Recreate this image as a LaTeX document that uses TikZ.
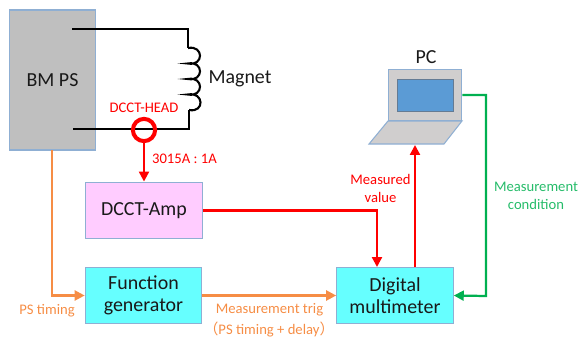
\documentclass[tikz,border=0pt]{standalone}
\usepackage{fontspec}
\setmainfont{Carlito}
\newfontfamily\cjk{Noto Sans CJK JP}
\usetikzlibrary{arrows.meta}
\definecolor{boxline}{HTML}{8FAFD3}
\definecolor{psgray}{HTML}{BFBFBF}
\definecolor{amppink}{HTML}{FFCCFF}
\definecolor{boxcyan}{HTML}{66FFFF}
\definecolor{laptopgray}{HTML}{D0CECE}
\definecolor{screenblue}{HTML}{5B9BD5}
\definecolor{trigorange}{HTML}{F68D45}
\definecolor{condgreen}{HTML}{00B050}
\tikzset{
    blockbox/.style={draw=boxline,line width=.9pt,minimum width=99.5pt,minimum height=48.5pt,align=center,font=\fontsize{17}{20}\selectfont,text=black!90},
    wire/.style={line width=1.8pt,black},
    sigline/.style={line width=1.9pt,-{Triangle[length=8.5pt,width=8.5pt]}},
    siglabel/.style={font=\fontsize{12.5}{15}\selectfont,align=center},
}
\begin{document}
\begin{tikzpicture}[x=.03cm,y=-.03cm]
    \useasboundingbox (0,0) rectangle (580,337);
    \node[blockbox,fill=psgray,minimum width=74pt,minimum height=119.5pt](ps)at(52.5,80){BM PS};
    \node[blockbox,fill=amppink](amp)at(144,210.5){DCCT-Amp};
    \node[blockbox,fill=boxcyan](fg)at(143.5,295.5){Function\\[-1pt]generator};
    \node[blockbox,fill=boxcyan](dmm)at(395,295.5){Digital\\[-1pt]multimeter};
    % magnet circuit
    \coordinate (wiretop) at (72,29);
    \coordinate (wirebot) at (73,129);
    \coordinate (coiltop) at (188,48);
    \coordinate (coilbot) at (189,110);
    \draw[wire](wiretop)-|(coiltop);
    \draw[wire](coilbot)|-(wirebot);
    \draw[wire](coiltop)
        .. controls ++(16,-3) and ++(16,3) .. ++(0,15.5)
        .. controls ++(16,-3) and ++(16,3) .. ++(0,15.5)
        .. controls ++(16,-3) and ++(16,3) .. ++(0,15.5)
        .. controls ++(16,-3) and ++(16,3) .. (coilbot);
    \node[font=\fontsize{17}{20}\selectfont,text=black!90](magnet)at(240,79){Magnet};
    % current head
    \node[circle,draw=red,line width=3.4pt,minimum size=19pt,inner sep=0pt](head)at(144,130){};
    \node[siglabel,text=red](headlabel)at(144,108){DCCT-HEAD};
    \draw[sigline,red](head.south)--(amp.north);
    \node[siglabel,text=red,anchor=west](ratio)at(148,158.5){3015A : 1A};
    % laptop
    \draw[boxline,line width=.9pt,fill=laptopgray](388,121)--(462,121)--(444,144)--(369,144)--cycle;
    \node[draw=boxline,line width=.9pt,fill=laptopgray,minimum width=63pt,minimum height=44pt,inner sep=0pt](pc)at(425,95){};
    \node[draw=boxline!70!black,line width=.9pt,fill=screenblue,minimum width=47pt,minimum height=28pt,inner sep=0pt](screen)at(425.5,95.5){};
    \coordinate (pcbase) at (415,145);
    \node[font=\fontsize{17}{20}\selectfont,text=black!90](pclabel)at(426,57){PC};
    % signals
    \coordinate (dmmin) at (377,267);
    \coordinate (dmmout) at (415,267);
    \coordinate (psout) at (52,150);
    \coordinate (greencorner) at (486,296);
    \draw[sigline,red](amp.east)-|(dmmin);
    \draw[sigline,red](dmmout)--(pcbase);
    \draw[sigline,trigorange](psout)|-(fg.west);
    \draw[sigline,trigorange](fg.east)--(dmm.west);
    \draw[sigline,condgreen](pc.east|-0,95)-|(greencorner)--(dmm.east);
    % labels
    \node[siglabel,text=trigorange](timing)at(47,310.5){PS timing};
    \node[siglabel,text=trigorange](trig)at(269.5,310){Measurement trig};
    \node[siglabel,text=trigorange](delay)at(269,329){{\cjk （}PS timing + delay{\cjk ）}};
    \node[siglabel,text=red](measured)at(380.5,188.5){Measured\\value};
    \node[siglabel,text=condgreen!85!white](cond)at(536,196){Measurement\\condition};
\end{tikzpicture}
\end{document}
